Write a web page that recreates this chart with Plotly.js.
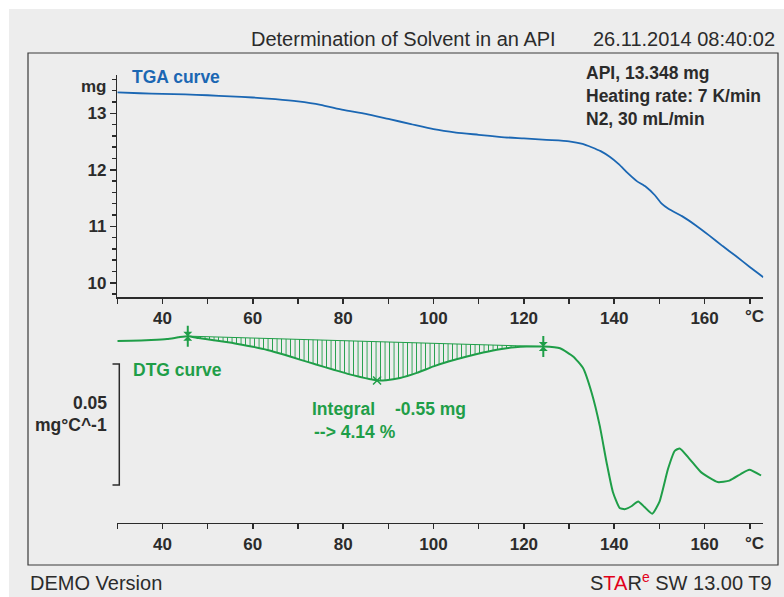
<!DOCTYPE html>
<html>
<head>
<meta charset="utf-8">
<script src="https://cdn.plot.ly/plotly-3.0.1.min.js"></script>
<style>
  html, body { margin: 0; padding: 0; background: #ffffff; }
  #chart { width: 784px; height: 597px; }
</style>
</head>
<body>
<div id="chart"></div>
<script>
// ---------------- DATA ----------------
// TGA curve: temperature (°C) and mass (mg)
const tgaTemp = [30, 35, 40, 45, 50, 55, 60, 65, 70, 75, 80, 85, 90, 95, 100, 105, 110, 115, 120, 125, 130, 133, 135, 137, 139, 141, 143, 145, 147, 149, 150.5, 152, 155, 158, 161, 164, 167, 170, 173];
const tgaMass = [13.37, 13.355, 13.345, 13.335, 13.32, 13.30, 13.28, 13.25, 13.21, 13.15, 13.06, 12.99, 12.90, 12.81, 12.72, 12.66, 12.62, 12.58, 12.555, 12.53, 12.505, 12.46, 12.40, 12.33, 12.23, 12.10, 11.94, 11.80, 11.70, 11.55, 11.40, 11.31, 11.18, 11.02, 10.84, 10.65, 10.47, 10.28, 10.10];

// DTG curve: temperature (°C) and derivative (mg/°C)
const dtgTemp = [30, 33, 37.5, 41, 43.5, 45.6, 48, 51, 55.8, 60, 63.2, 67, 70.6, 74, 77.9, 81, 83.8, 86, 87.5, 89.5, 92.6, 96.3, 100, 103.5, 107.4, 111, 114.7, 118, 120.6, 124.3, 128, 130.9, 133.1, 135.0, 136.8, 138.3, 139.7, 141.2, 142.3, 143.8, 145.3, 146.7, 148.4, 150.0, 151.9, 153.4, 154.5, 156.7, 159.2, 162.9, 165.5, 168, 169.9, 172.5];
const dtgRate = [-0.0020, -0.0019, -0.0016, -0.0012, -0.0005, 0.0000, -0.0008, -0.0016, -0.0029, -0.0044, -0.0057, -0.0077, -0.0098, -0.0117, -0.0139, -0.0156, -0.0169, -0.0178, -0.0183, -0.0182, -0.0173, -0.0152, -0.0125, -0.0104, -0.0084, -0.0068, -0.0054, -0.0046, -0.0043, -0.0043, -0.0050, -0.0084, -0.0132, -0.0234, -0.0371, -0.0521, -0.0644, -0.0710, -0.0715, -0.0703, -0.0683, -0.0706, -0.0734, -0.0685, -0.0549, -0.0474, -0.0464, -0.0508, -0.0562, -0.0603, -0.0597, -0.0570, -0.0552, -0.0576];

// Integration limits (°C) and result
const intStart = 45.6;
const intEnd = 124.3;
const integralText = "Integral";
const integralValue = "-0.55 mg";
const integralPercent = "--> 4.14 %";

// Axis ticks
const xTickVals = [40, 60, 80, 100, 120, 140, 160];
const xTickText = ["40", "60", "80", "100", "120", "140", "160"];
const yTickVals = [10, 11, 12, 13];
const yTickText = ["10", "11", "12", "13"];
const dtgScaleBar = 0.05; // mg/°C
const dtgScaleText = ["0.05", "mg°C^-1"];

const titleText = "Determination of Solvent in an API";
const dateText = "26.11.2014 08:40:02";
const infoLines = ["API, 13.348 mg", "Heating rate: 7 K/min", "N2, 30 mL/min"];

// ---------------- STYLE ----------------
const W = 784, H = 597;
const px = v => v / W;
const py = v => (H - v) / H;
const blue = "#1b67b3";
const green = "#1f9e48";
const ink = "#2b2b2b";
const FONT = "Liberation Sans, Arial, sans-serif";

function interp(xs, ys, x) {
  for (let i = 0; i < xs.length - 1; i++) {
    if (x >= xs[i] && x <= xs[i + 1]) {
      const t = (x - xs[i]) / (xs[i + 1] - xs[i]);
      return ys[i] + t * (ys[i + 1] - ys[i]);
    }
  }
  return ys[ys.length - 1];
}

// integration segment
const segX = [], segY = [];
dtgTemp.forEach((t, i) => { if (t >= intStart && t <= intEnd) { segX.push(t); segY.push(dtgRate[i]); } });
const baseY0 = interp(dtgTemp, dtgRate, intStart);
const baseY1 = interp(dtgTemp, dtgRate, intEnd);
let minIdx = 0;
segY.forEach((v, i) => { if (v < segY[minIdx]) minIdx = i; });

const traces = [
  { x: tgaTemp, y: tgaMass, xaxis: "x", yaxis: "y", mode: "lines",
    line: { color: blue, width: 1.8, shape: "spline", smoothing: 0.5 }, hoverinfo: "skip" },
  { x: [intStart, intEnd], y: [baseY0, baseY1], xaxis: "x2", yaxis: "y2", mode: "lines",
    line: { color: "rgba(0,0,0,0)", width: 0 }, hoverinfo: "skip" },
  { x: segX, y: segY, xaxis: "x2", yaxis: "y2", mode: "lines", fill: "tonexty",
    fillcolor: "rgba(0,0,0,0)",
    fillpattern: { shape: "|", size: 4.5, solidity: 0.2, fgcolor: green, bgcolor: "rgba(0,0,0,0)", fgopacity: 1 },
    line: { color: "rgba(0,0,0,0)", width: 0, shape: "spline", smoothing: 0.5 }, hoverinfo: "skip" },
  { x: [intStart, intEnd], y: [baseY0, baseY1], xaxis: "x2", yaxis: "y2", mode: "lines",
    line: { color: green, width: 1 }, hoverinfo: "skip" },
  { x: dtgTemp, y: dtgRate, xaxis: "x2", yaxis: "y2", mode: "lines",
    line: { color: green, width: 2, shape: "spline", smoothing: 0.5 }, hoverinfo: "skip" },
  { x: [intStart, intEnd], y: [baseY0, baseY1], xaxis: "x2", yaxis: "y2", mode: "markers",
    marker: { symbol: "line-ns-open", size: 15, color: green, line: { color: green, width: 2 } }, hoverinfo: "skip" },
  { x: [intStart, intEnd], y: [baseY0, baseY1], xaxis: "x2", yaxis: "y2", mode: "markers",
    marker: { symbol: "hourglass", size: 9, color: green, line: { width: 0 } }, hoverinfo: "skip" },
  { x: [segX[minIdx]], y: [segY[minIdx]], xaxis: "x2", yaxis: "y2", mode: "markers",
    marker: { symbol: "x-thin-open", size: 8, color: green, line: { color: green, width: 1.5 } }, hoverinfo: "skip" }
];

const xRange = [30, 173];
const xDomain = [px(117.3), px(763.3)];
const tickFont = { family: FONT, size: 17, color: ink, weight: "bold" };

const xCommon = {
  range: xRange, domain: xDomain, showgrid: false, zeroline: false,
  showline: true, linecolor: ink, linewidth: 1.5,
  ticks: "outside", ticklen: 5, tickwidth: 1.5, tickcolor: ink,
  tickvals: xTickVals, ticktext: xTickText, tickfont: tickFont,
  minor: { dtick: 10, tick0: 0, ticks: "outside", ticklen: 5, tickwidth: 1.5, tickcolor: ink },
  fixedrange: true
};

const annFont = (size, color, bold) => ({ family: FONT, size: size, color: color, weight: bold ? "bold" : "normal" });
const A = (text, x, y, xanchor, font, xref, yref) => ({
  text: text, x: x, y: y, xref: xref || "paper", yref: yref || "paper",
  xanchor: xanchor, yanchor: "middle", showarrow: false, font: font, align: xanchor === "right" ? "right" : "left"
});

const bracketTop = -0.0115;
const bracketBot = bracketTop - dtgScaleBar;

const layout = {
  width: W, height: H,
  margin: { l: 0, r: 0, t: 0, b: 0 },
  paper_bgcolor: "#ffffff",
  plot_bgcolor: "rgba(0,0,0,0)",
  showlegend: false,
  xaxis: Object.assign({}, xCommon, { anchor: "y" }),
  yaxis: {
    domain: [py(297), py(75)], range: [9.749, 13.678], anchor: "x",
    showgrid: false, zeroline: false, showline: true, linecolor: ink, linewidth: 1.5,
    ticks: "outside", ticklen: 6, tickwidth: 1.5, tickcolor: ink,
    tickvals: yTickVals, ticktext: yTickText, tickfont: tickFont,
    minor: { dtick: 0.2, tick0: 0, ticks: "outside", ticklen: 4, tickwidth: 1.5, tickcolor: ink },
    fixedrange: true
  },
  xaxis2: Object.assign({}, xCommon, { anchor: "y2" }),
  yaxis2: {
    domain: [py(522.7), py(325)], range: [-0.0771, 0.0046], anchor: "x2",
    visible: false, fixedrange: true
  },
  shapes: [
    { type: "rect", xref: "paper", yref: "paper", x0: px(9), x1: 1, y0: 0, y1: py(9),
      fillcolor: "#ededed", line: { width: 0 }, layer: "below" },
    { type: "rect", xref: "paper", yref: "paper", x0: px(28), x1: px(778), y0: py(565), y1: py(53),
      fillcolor: "rgba(0,0,0,0)", line: { color: "#3a3a3a", width: 1.2 }, layer: "below" },
    { type: "path", xref: "paper", yref: "y2",
      path: `M ${px(112.5)},${bracketTop} L ${px(119.3)},${bracketTop} L ${px(119.3)},${bracketBot} L ${px(112.5)},${bracketBot}`,
      line: { color: ink, width: 1.5 } }
  ],
  annotations: [
    A(titleText, px(558), py(39), "right", annFont(20, ink, false)),
    A(dateText, px(777), py(39), "right", annFont(20, ink, false)),
    A("TGA curve", px(130), py(77), "left", annFont(17.5, blue, true)),
    A(infoLines.join("<br>"), px(584), py(96), "left", annFont(17.5, ink, true)),
    A("mg", px(108.5), py(86.7), "right", tickFont),
    A("°C", 171, py(316), "center", tickFont, "x"),
    A("°C", 171, py(543), "center", tickFont, "x2"),
    A("DTG curve", px(130.5), py(370), "left", annFont(17.5, green, true)),
    A(integralText, px(309.5), py(409), "left", annFont(17.5, green, true)),
    A(integralValue, px(392.5), py(409), "left", annFont(17.5, green, true)),
    A(integralPercent, px(311.5), py(432), "left", annFont(17.5, green, true)),
    A(dtgScaleText[0], px(108.5), py(403), "right", annFont(17.5, ink, true)),
    A(dtgScaleText[1], px(108.5), py(425), "right", annFont(17.5, ink, true)),
    A("DEMO Version", px(27.5), py(583.3), "left", annFont(20, ink, false)),
    A('S<span style="color:#e2001a">TA</span>R<sup><span style="color:#e2001a">e</span></sup> SW 13.00 T9', px(774), py(581.7), "right", annFont(20, ink, false))
  ]
};

Plotly.newPlot("chart", traces, layout, { displayModeBar: false, staticPlot: true });
</script>
</body>
</html>
